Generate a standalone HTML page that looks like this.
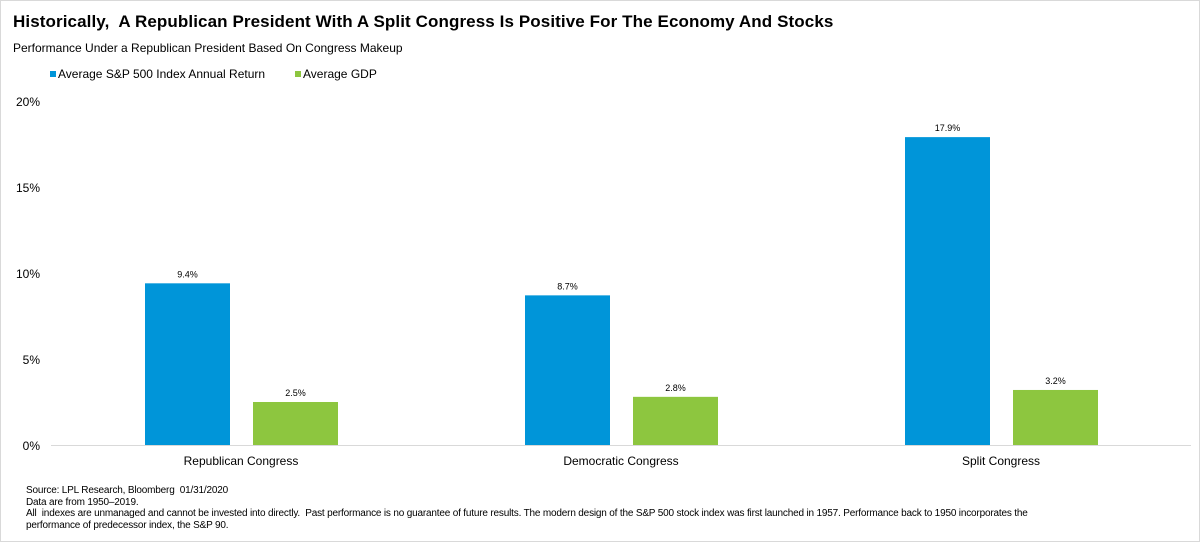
<!DOCTYPE html>
<html><head><meta charset="utf-8"><style>
body{margin:0;background:#fff;}
#wrap{position:relative;width:1198px;height:540px;border:1px solid #d9d9d9;font-family:"Liberation Sans",Arial,sans-serif;overflow:hidden;}
.t{position:absolute;white-space:nowrap;color:#000;}
</style></head><body>
<div id="wrap">
<div class="t" style="left:12px;top:11px;font-size:17px;font-weight:bold;letter-spacing:0.1px;">Historically,&nbsp; A Republican President With A Split Congress Is Positive For The Economy And Stocks</div>
<div class="t" style="left:12px;top:40px;font-size:12px;">Performance Under a Republican President Based On Congress Makeup</div>
<div class="t" style="left:49px;top:66px;font-size:12px;"><span style="display:inline-block;width:6px;height:6px;background:#0095d9;margin-right:2px;vertical-align:1px"></span>Average S&amp;P 500 Index Annual Return</div>
<div class="t" style="left:294px;top:66px;font-size:12px;"><span style="display:inline-block;width:6px;height:6px;background:#8dc63f;margin-right:2px;vertical-align:1px"></span>Average GDP</div>
<svg id="plot" width="1198" height="470" style="position:absolute;left:0;top:0"></svg>
<div class="t" style="left:25px;top:484px;font-size:10px;line-height:11.5px;letter-spacing:-0.18px;">Source: LPL Research, Bloomberg&nbsp; 01/31/2020<br>Data are from 1950–2019.<br>All&nbsp; indexes are unmanaged and cannot be invested into directly.&nbsp; Past performance is no guarantee of future results. The modern design of the S&amp;P 500 stock index was first launched in 1957. Performance back to 1950 incorporates the<br>performance of predecessor index, the S&amp;P 90.</div>
</div>
<script>
const categories=["Republican Congress","Democratic Congress","Split Congress"];
const spValues=[9.4,8.7,17.9];
const gdpValues=[2.5,2.8,3.2];
const yTicks=[0,5,10,15,20];
const NS="http://www.w3.org/2000/svg";
const svg=document.getElementById('plot');
const x0=50,x1=1190,yZero=444,yTop=100;
const y=v=>yZero-(v/20)*(yZero-yTop);
const bw=(x1-x0)/categories.length;
function mk(tag,attrs,txt){const e=document.createElementNS(NS,tag);for(const k in attrs)e.setAttribute(k,attrs[k]);if(txt!==undefined)e.textContent=txt;svg.appendChild(e);return e;}
yTicks.forEach(t=>{
 const e=mk('text',{x:39,y:y(t)+5,'text-anchor':'end','font-size':12,'font-family':'Liberation Sans, Arial, sans-serif'},t+'%');
 
 
});
const ax=mk('line',{x1:x0,x2:x1,y1:yZero+0.5,y2:yZero+0.5,stroke:'#d9d9d9','stroke-width':1});


categories.forEach((c,i)=>{
 const cx=x0+bw*(i+0.5);
 const series=[[spValues[i],'#0095d9',cx-96,'bar-sp500'],[gdpValues[i],'#8dc63f',cx+12,'bar-gdp']];
 series.forEach(s=>{
  const r=mk('rect',{x:s[2],y:y(s[0]),width:85,height:yZero-y(s[0]),fill:s[1]});
  
  
  const l=mk('text',{x:s[2]+42.5,y:y(s[0])-6,'text-anchor':'middle','font-size':9,'font-family':'Liberation Sans, Arial, sans-serif'},s[0].toFixed(1)+'%');
  
  
 });
 const t=mk('text',{x:cx,y:yZero+20,'text-anchor':'middle','font-size':12,'font-family':'Liberation Sans, Arial, sans-serif'},c);
 
 
});
</script>
</body></html>
